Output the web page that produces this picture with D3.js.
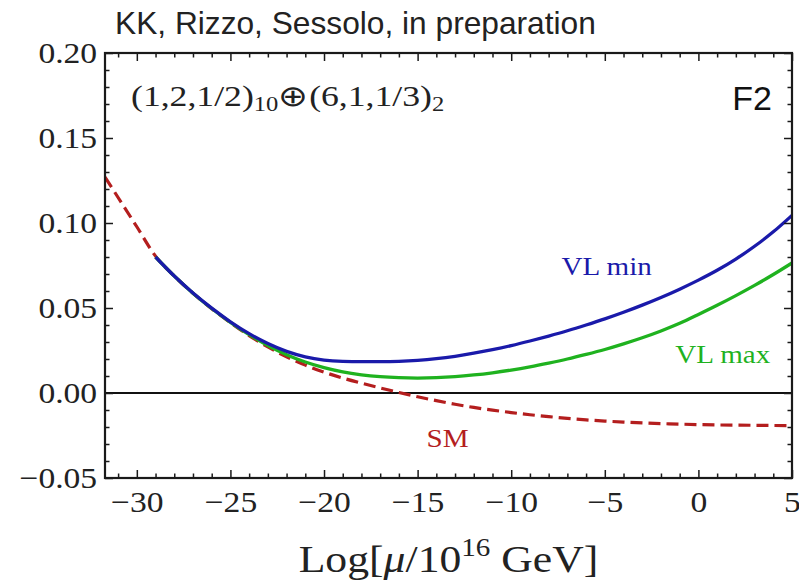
<!DOCTYPE html>
<html>
<head>
<meta charset="utf-8">
<script src="https://cdn.jsdelivr.net/npm/d3@7"></script>
<style>
  body { margin: 0; background: #fff; }
</style>
</head>
<body>
<svg width="799" height="582"></svg>
<script>
// x: Log[mu/10^16 GeV]
var smX = [-31.7,-31,-30,-29,-28,-27,-26,-25,-24,-23,-22,-21,-20,-19,-18,-17,-16,-15,-14,-13,-12,-11,-10,-9,-8,-7,-6,-5,-4,-3,-2,-1,0,1,2,3,4,5];
var smY = [0.1270,0.1150,0.0978,0.0805,0.0688,0.0587,0.0496,0.0414,0.0338,0.0271,0.0213,0.0164,0.0123,0.0088,0.0058,0.0030,0.0003,-0.0022,-0.0045,-0.0066,-0.0085,-0.0101,-0.0115,-0.0128,-0.0139,-0.0149,-0.0158,-0.0165,-0.0171,-0.0176,-0.0180,-0.0183,-0.0186,-0.0188,-0.0189,-0.0190,-0.0191,-0.0192];

var vlX = [-29,-28,-27,-26,-25,-24,-23,-22,-21,-20,-19,-18,-17,-16,-15,-14,-13,-12,-11,-10,-9,-8,-7,-6,-5,-4,-3,-2,-1,0,1,2,3,4,5];
var vlMin = [0.0800,0.0688,0.0588,0.0499,0.0419,0.0349,0.0291,0.0245,0.0213,0.0194,0.0186,0.0184,0.0184,0.0186,0.0192,0.0202,0.0216,0.0234,0.0255,0.0279,0.0306,0.0335,0.0366,0.0400,0.0436,0.0475,0.0517,0.0562,0.0611,0.0664,0.0722,0.0788,0.0863,0.0948,0.1045];
var vlMax = [0.0800,0.0688,0.0587,0.0497,0.0416,0.0343,0.0279,0.0225,0.0182,0.0149,0.0124,0.0107,0.0096,0.0090,0.0088,0.0090,0.0096,0.0106,0.0119,0.0135,0.0154,0.0176,0.0200,0.0227,0.0256,0.0289,0.0325,0.0365,0.0410,0.0462,0.0516,0.0573,0.0633,0.0697,0.0765];

var xTicks = [-30,-25,-20,-15,-10,-5,0,5];
var yTicks = [-0.05,0,0.05,0.10,0.15,0.20];

var svg = d3.select("svg");
var plotL = 105, plotR = 792, plotT = 53, plotB = 478;
var serifFont = "'Liberation Serif','Times New Roman',serif";
var stretch = 1.12;

var x = d3.scaleLinear().domain([-31.7, 5]).range([plotL, plotR]);
var y = d3.scaleLinear().domain([-0.05, 0.20]).range([plotB, plotT]);

var blue = "#1a1aaa", green = "#1fb21f", red = "#b41e1e";

// zero line
svg.append("line")
  .attr("x1", plotL).attr("x2", plotR)
  .attr("y1", y(0)).attr("y2", y(0))
  .attr("stroke", "#111").attr("stroke-width", 1.8);

svg.append("clipPath").attr("id", "plot")
  .append("rect").attr("x", plotL).attr("y", plotT)
  .attr("width", plotR - plotL).attr("height", plotB - plotT);

var line = d3.line()
  .x(function(d) { return x(d[0]); })
  .y(function(d) { return y(d[1]); })
  .curve(d3.curveMonotoneX);

var curves = svg.append("g").attr("clip-path", "url(#plot)");

curves.append("path")
  .datum(d3.zip(smX, smY))
  .attr("d", line)
  .attr("fill", "none").attr("stroke", red)
  .attr("stroke-width", 3.2).attr("stroke-dasharray", "12,6");

curves.append("path")
  .datum(d3.zip(vlX, vlMax))
  .attr("d", line)
  .attr("fill", "none").attr("stroke", green).attr("stroke-width", 3.3);

curves.append("path")
  .datum(d3.zip(vlX, vlMin))
  .attr("d", line)
  .attr("fill", "none").attr("stroke", blue).attr("stroke-width", 3.3);

// axes, ticks point inward on all four sides
function styleAxis(g) {
  g.select(".domain").remove();
  g.selectAll(".tick line").attr("stroke", "#1a1a1a").attr("stroke-width", 1.5);
  g.selectAll("text")
    .attr("fill", "#222")
    .style("font-family", serifFont)
    .style("font-size", "30px")
    .attr("transform", "scale(" + stretch + ",1)");
}

var xMinor = d3.range(-31, 6).filter(function(v) { return xTicks.indexOf(v) < 0; });
var yMinor = d3.range(-5, 21)
  .filter(function(v) { return v % 5 !== 0; })
  .map(function(v) { return v / 100; });

svg.append("g").attr("transform", "translate(0," + plotB + ")")
  .call(d3.axisBottom(x).tickValues(xTicks).tickSize(-8).tickPadding(13).tickFormat(d3.format("d")))
  .call(styleAxis);
svg.append("g").attr("transform", "translate(0," + plotB + ")")
  .call(d3.axisBottom(x).tickValues(xMinor).tickSize(-4.5).tickFormat(""))
  .call(styleAxis);
svg.append("g").attr("transform", "translate(0," + plotT + ")")
  .call(d3.axisTop(x).tickValues(xTicks).tickSize(-8).tickFormat(""))
  .call(styleAxis);
svg.append("g").attr("transform", "translate(0," + plotT + ")")
  .call(d3.axisTop(x).tickValues(xMinor).tickSize(-4.5).tickFormat(""))
  .call(styleAxis);

svg.append("g").attr("transform", "translate(" + plotL + ",0)")
  .call(d3.axisLeft(y).tickValues(yTicks).tickSize(-8).tickPadding(7).tickFormat(d3.format(".2f")))
  .call(styleAxis);
svg.append("g").attr("transform", "translate(" + plotL + ",0)")
  .call(d3.axisLeft(y).tickValues(yMinor).tickSize(-4.5).tickFormat(""))
  .call(styleAxis);
svg.append("g").attr("transform", "translate(" + plotR + ",0)")
  .call(d3.axisRight(y).tickValues(yTicks).tickSize(-8).tickFormat(""))
  .call(styleAxis);
svg.append("g").attr("transform", "translate(" + plotR + ",0)")
  .call(d3.axisRight(y).tickValues(yMinor).tickSize(-4.5).tickFormat(""))
  .call(styleAxis);

// frame
svg.append("rect")
  .attr("x", plotL).attr("y", plotT)
  .attr("width", plotR - plotL).attr("height", plotB - plotT)
  .attr("fill", "none").attr("stroke", "#1a1a1a").attr("stroke-width", 2.2);

// serif text with the horizontal stretch of the original plot
function serifText(px, py, size, anchor, sx) {
  return svg.append("text")
    .attr("transform", "translate(" + px + "," + py + ") scale(" + (sx || stretch) + ",1)")
    .attr("text-anchor", anchor)
    .style("font-family", serifFont)
    .style("font-size", size + "px");
}

serifText(x(-4.9), y(0.0694), 26, "middle").attr("fill", blue).text("VL min");
serifText(x(1.3), y(0.0176), 26, "middle").attr("fill", green).text("VL max");
serifText(x(-13.4), y(-0.0318), 26, "middle").attr("fill", red).text("SM");

var rep = serifText(131, 106, 29, "start", 1.23).attr("fill", "#222");
rep.append("tspan").text("(1,2,1/2)");
rep.append("tspan").attr("dy", 5).style("font-size", "20px").text("10");
rep.append("tspan").attr("dy", -5).text("\u2295(6,1,1/3)");
rep.append("tspan").attr("dy", 5).style("font-size", "20px").text("2");

var xt = serifText((plotL + plotR) / 2, 572, 39, "middle").attr("fill", "#222");
xt.append("tspan").text("Log[");
xt.append("tspan").style("font-style", "italic").text("\u03bc");
xt.append("tspan").text("/10");
xt.append("tspan").attr("dy", -16).style("font-size", "26px").text("16");
xt.append("tspan").attr("dy", 16).text(" GeV]");

// header and panel tag
svg.append("text")
  .attr("x", 115).attr("y", 34)
  .style("font-family", "'Liberation Sans',Arial,sans-serif")
  .style("font-size", "31.7px")
  .attr("fill", "#222")
  .text("KK, Rizzo, Sessolo, in preparation");

svg.append("text")
  .attr("x", 772).attr("y", 110)
  .attr("text-anchor", "end")
  .style("font-family", "'Liberation Sans',Arial,sans-serif")
  .style("font-size", "34px")
  .attr("fill", "#111")
  .text("F2");
</script>
</body>
</html>
